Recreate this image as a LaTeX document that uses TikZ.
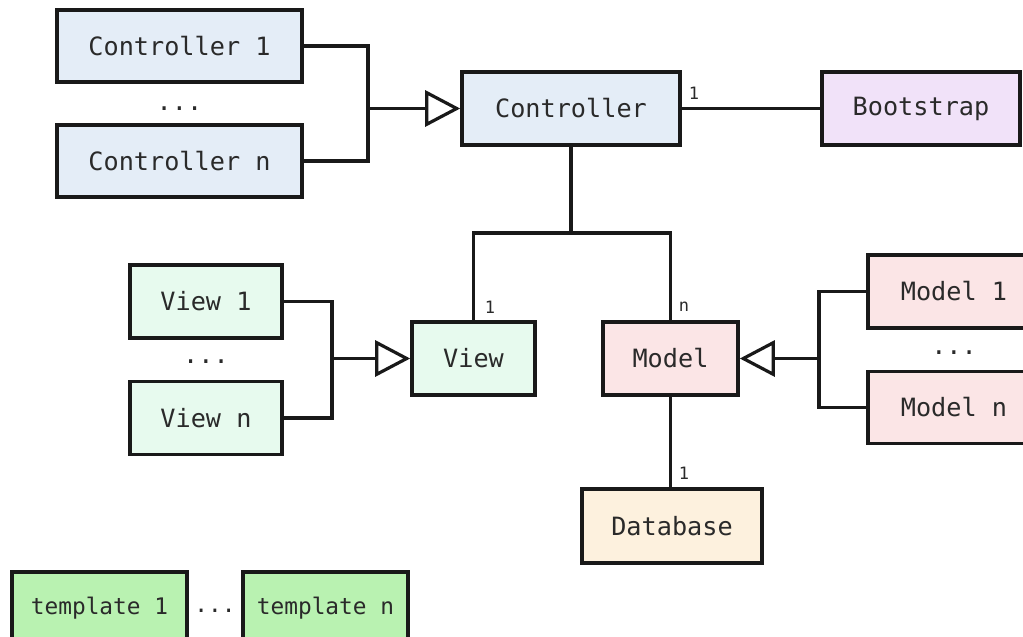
\documentclass[tikz,border=0pt]{standalone}
\usepackage{fontspec}
\setmonofont{DejaVu Sans Mono}
\usetikzlibrary{arrows.meta}
\definecolor{cblue}{HTML}{E4EDF7}
\definecolor{cpurple}{HTML}{F1E2F9}
\definecolor{cgreen}{HTML}{E7FAEE}
\definecolor{cpink}{HTML}{FBE5E6}
\definecolor{corange}{HTML}{FDF1DE}
\definecolor{ctempl}{HTML}{B9F2B1}
\definecolor{ctext}{HTML}{2A2A2A}
\tikzset{
  box/.style={draw=black!90, line width=1.8pt, inner sep=0pt, text=ctext,
    font=\ttfamily\fontsize{12.6}{15}\selectfont},
  conn/.style={line width=1.8pt, draw=black!90},
  inh/.style={conn, -{Triangle[open, length=17.5pt, width=18pt, line width=1.6pt]}},
  mult/.style={font=\ttfamily\fontsize{8.5}{10}\selectfont, text=ctext, inner sep=0pt},
  dots/.style={font=\ttfamily\fontsize{12.6}{15}\selectfont, text=ctext, inner sep=0pt}
}
\begin{document}
\begin{tikzpicture}[x=0.5pt, y=-0.5pt]
\clip (0,0) rectangle (1023,637);
\fill[white] (0,0) rectangle (1023,637);
% controllers
\node[box, fill=cblue, minimum width=122.5pt, minimum height=36pt] (c1) at (179.5,46) {Controller 1};
\node[dots] (cdots) at (179.5,109) {...};
\node[box, fill=cblue, minimum width=122.5pt, minimum height=36pt] (cn) at (179.5,161) {Controller n};
\node[box, fill=cblue, minimum width=109pt, minimum height=36.5pt] (ctrl) at (571,108.5) {Controller};
\node[box, fill=cpurple, minimum width=99pt, minimum height=36.5pt] (boot) at (921,108.5) {Bootstrap};
% views
\node[box, fill=cgreen, minimum width=76pt, minimum height=36.5pt] (v1) at (206,301.5) {View 1};
\node[dots] (vdots) at (206,362) {...};
\node[box, fill=cgreen, minimum width=76pt, minimum height=36.5pt] (vn) at (206,418) {View n};
\node[box, fill=cgreen, minimum width=61.5pt, minimum height=36.5pt] (view) at (473.5,358.5) {View};
% models
\node[box, fill=cpink, minimum width=67.5pt, minimum height=36.5pt] (model) at (670.5,358.5) {Model};
\node[box, fill=cpink, minimum width=86pt, minimum height=36.5pt] (m1) at (954,291.5) {Model 1};
\node[dots] (mdots) at (954,353) {...};
\node[box, fill=cpink, minimum width=86pt, minimum height=36pt] (mn) at (954,407.5) {Model n};
\node[box, fill=corange, minimum width=90pt, minimum height=37pt] (db) at (672,526) {Database};
% templates
\node[box, fill=ctempl, minimum width=87.5pt, minimum height=36.5pt, font=\ttfamily\fontsize{11.4}{14}\selectfont] (t1) at (99.5,608.5) {template 1};
\node[dots, font=\ttfamily\fontsize{11.4}{14}\selectfont] (tdots) at (215,611) {...};
\node[box, fill=ctempl, minimum width=82.5pt, minimum height=36.5pt, font=\ttfamily\fontsize{11.4}{14}\selectfont] (tn) at (325.5,608.5) {template n};
% junctions
\coordinate (jc) at (368,108.5);
\coordinate (jv) at (332,358.5);
\coordinate (jm) at (819,358.5);
\coordinate (cm) at (571,233);
% connectors
\draw[conn] (c1.east) -| (jc);
\draw[conn] (cn.east) -| (jc);
\draw[inh] (jc) -- (ctrl.west);
\draw[conn] (ctrl.east) -- (boot.west);
\draw[conn] (ctrl.south) -- (cm);
\draw[conn] (cm) -| (view.north);
\draw[conn] (cm) -| (model.north);
\draw[conn] (v1.east) -| (jv);
\draw[conn] (vn.east) -| (jv);
\draw[inh] (jv) -- (view.west);
\draw[conn] (m1.west) -| (jm);
\draw[conn] (mn.west) -| (jm);
\draw[inh] (jm) -- (model.east);
\draw[conn] (model.south) -- (model.south |- db.north);
% multiplicities
\node[mult] (l1) at (694,93) {1};
\node[mult] (l2) at (490,307) {1};
\node[mult] (l3) at (684,307) {n};
\node[mult] (l4) at (684,473) {1};
\end{tikzpicture}
\end{document}
